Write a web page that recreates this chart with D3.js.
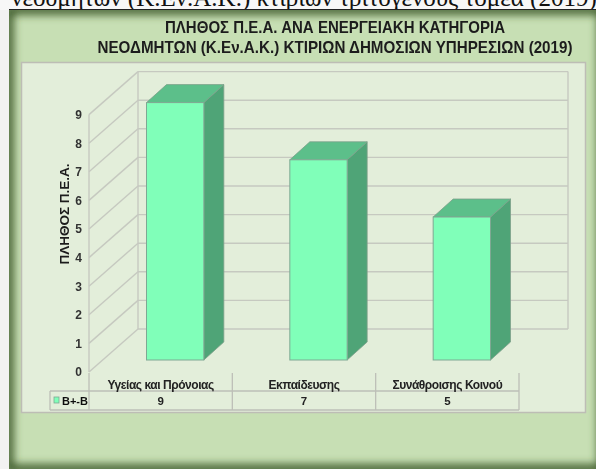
<!DOCTYPE html>
<html>
<head>
<meta charset="utf-8">
<script src="https://cdn.jsdelivr.net/npm/d3@7"></script>
<style>
  html, body { margin: 0; padding: 0; background: #f2f2f2; overflow: hidden; }
  svg { display: block; font-family: "Liberation Sans", Arial, sans-serif; }
</style>
</head>
<body>
<svg width="596" height="469"></svg>
<script>
(function() {
    // chart values
    var categories = ["Υγείας και Πρόνοιας", "Εκπαίδευσης", "Συνάθροισης Κοινού"];
    var seriesName = "Β+-Β";
    var seriesValues = [9, 7, 5];
    var yTicks = [0, 1, 2, 3, 4, 5, 6, 7, 8, 9];
    var titleLines = [
      "ΠΛΗΘΟΣ Π.Ε.Α. ΑΝΑ ΕΝΕΡΓΕΙΑΚΗ ΚΑΤΗΓΟΡΙΑ",
      "ΝΕΟΔΜΗΤΩΝ (Κ.Εν.Α.Κ.) ΚΤΙΡΙΩΝ ΔΗΜΟΣΙΩΝ ΥΠΗΡΕΣΙΩΝ (2019)"
    ];
    var yTitle = "ΠΛΗΘΟΣ Π.Ε.Α.";
    var caption = "νεοδμητων (Κ.Εν.Α.Κ.) κτιρίων τριτογενούς τομέα (2019)";

    var svg = d3.select("svg");
    var defs = svg.append("defs");

    var soft = defs.append("filter").attr("id", "soft");
    soft.append("feGaussianBlur").attr("stdDeviation", 0.55);

    // dark edges of the picture frame
    var edgeBlur = defs.append("filter").attr("id", "edge")
      .attr("x", "-5%").attr("y", "-5%").attr("width", "110%").attr("height", "110%");
    edgeBlur.append("feGaussianBlur").attr("stdDeviation", 4);

    var clip = defs.append("clipPath").attr("id", "frame");
    clip.append("rect").attr("x", 9).attr("y", 10).attr("width", 587).attr("height", 459);

    // caption cut off by the frame
    svg.append("rect").attr("width", 596).attr("height", 10).attr("fill", "#f7f7f7");
    svg.append("text")
      .attr("x", 304).attr("y", 6)
      .attr("text-anchor", "middle")
      .style("font-family", "'Liberation Serif', 'DejaVu Serif', serif")
      .style("font-size", "25px")
      .attr("fill", "#111")
      .text(caption);

    var frame = svg.append("g").attr("clip-path", "url(#frame)");
    frame.append("rect").attr("x", 9).attr("y", 10).attr("width", 587).attr("height", 459).attr("fill", "#c7dfb4");
    frame.append("rect")
      .attr("x", 9).attr("y", 10).attr("width", 593).attr("height", 459)
      .attr("fill", "none").attr("stroke", "#3c5a2c").attr("stroke-width", 9)
      .attr("filter", "url(#edge)");
    svg.append("line").attr("x1", 9).attr("x2", 596).attr("y1", 9.5).attr("y2", 9.5).attr("stroke", "#222");

    var g = svg.append("g").attr("filter", "url(#soft)");

    // plot panel
    g.append("rect")
      .attr("x", 21.5).attr("y", 62.5).attr("width", 564).attr("height", 350)
      .attr("fill", "#e3eeda").attr("stroke", "#bdbdb5").attr("stroke-width", 1.5);

    // title is narrower than the font, squeeze it to its width
    g.selectAll(".title").data(titleLines).enter().append("text")
      .attr("x", 335)
      .attr("y", function(d, i) { return i ? 52.5 : 32.5; })
      .attr("text-anchor", "middle")
      .attr("textLength", function(d, i) { return i ? 475 : 340; })
      .attr("lengthAdjust", "spacingAndGlyphs")
      .style("font-size", "16.5px").style("font-weight", "bold")
      .attr("fill", "#1c1c1c")
      .text(function(d) { return d; });

    // 3d offsets
    var wallDx = 49, wallDy = -43;
    var barDx = 20, barDy = -18;

    var y = d3.scaleLinear().domain([0, 9]).range([372, 114.6]);
    var x = d3.scaleBand().domain(categories).range([89, 519]).paddingInner(0.6).paddingOuter(0.3);
    var xCell = d3.scaleBand().domain(categories).range([89, 519]);

    var gridColor = "#c6c9c0";

    // back wall lines
    var wall = g.append("g").attr("fill", "none").attr("stroke", gridColor).attr("stroke-width", 1.4);
    wall.selectAll(".back").data(yTicks).enter().append("line")
      .attr("x1", 89 + wallDx).attr("x2", 519 + wallDx)
      .attr("y1", function(d) { return y(d) + wallDy; })
      .attr("y2", function(d) { return y(d) + wallDy; });
    wall.selectAll(".side").data(yTicks).enter().append("line")
      .attr("x1", 89).attr("x2", 89 + wallDx)
      .attr("y1", function(d) { return y(d); })
      .attr("y2", function(d) { return y(d) + wallDy; });
    wall.append("line").attr("x1", 89).attr("x2", 89).attr("y1", y(0)).attr("y2", y(9));
    wall.append("line").attr("x1", 89 + wallDx).attr("x2", 89 + wallDx).attr("y1", y(0) + wallDy).attr("y2", y(9) + wallDy);
    wall.append("line").attr("x1", 519 + wallDx).attr("x2", 519 + wallDx).attr("y1", y(0) + wallDy).attr("y2", y(9) + wallDy);

    // y axis labels
    var yAxis = d3.axisLeft(y).tickValues(yTicks).tickSize(0).tickPadding(0);
    var yG = g.append("g").attr("transform", "translate(82,0)").call(yAxis);
    yG.select(".domain").remove();
    yG.selectAll("text")
      .style("font-family", "'Liberation Sans', Arial, sans-serif")
      .style("font-size", "12px").style("font-weight", "bold").attr("fill", "#333");

    g.append("text")
      .attr("transform", "translate(69,214) rotate(-90)")
      .attr("text-anchor", "middle")
      .style("font-size", "13.5px").style("font-weight", "bold")
      .attr("fill", "#1c1c1c")
      .text(yTitle);

    // bars, drawn as front + top + side; front face sits inside the wall depth
    var bars = g.selectAll(".bar").data(seriesValues).enter().append("g");
    var baseX = 14.5, baseY = -12;
    function px(i) { return x(categories[i]) + baseX; }

    bars.append("path")
      .attr("fill", "#4fa477").attr("stroke", "#7d9f8a").attr("stroke-width", 0.8)
      .attr("d", function(d, i) {
        var x1 = px(i) + x.bandwidth();
        var t = y(d) + baseY, b = y(0) + baseY;
        return d3.line()([[x1, t], [x1 + barDx, t + barDy], [x1 + barDx, b + barDy], [x1, b]]) + "Z";
      });
    bars.append("path")
      .attr("fill", "#5bbf8a").attr("stroke", "#7d9f8a").attr("stroke-width", 0.8)
      .attr("d", function(d, i) {
        var x0 = px(i), x1 = x0 + x.bandwidth();
        var t = y(d) + baseY;
        return d3.line()([[x0, t], [x0 + barDx, t + barDy], [x1 + barDx, t + barDy], [x1, t]]) + "Z";
      });
    bars.append("rect")
      .attr("x", function(d, i) { return px(i); })
      .attr("y", function(d) { return y(d) + baseY; })
      .attr("width", x.bandwidth())
      .attr("height", function(d) { return y(0) - y(d); })
      .attr("fill", "#80ffb9").attr("stroke", "#7fa893").attr("stroke-width", 1);

    // data table under the chart
    var rowTop = 391, rowBottom = 410, headTop = 373, legendLeft = 50;
    var table = g.append("g").attr("stroke", "#bdbfb7").attr("stroke-width", 1.3);
    table.append("line").attr("x1", legendLeft).attr("x2", 519).attr("y1", rowTop).attr("y2", rowTop);
    table.append("line").attr("x1", legendLeft).attr("x2", 519).attr("y1", rowBottom).attr("y2", rowBottom);
    table.append("line").attr("x1", legendLeft).attr("x2", legendLeft).attr("y1", rowTop).attr("y2", rowBottom);
    table.selectAll(".cell").data([89].concat(categories.map(function(c) { return xCell(c) + xCell.bandwidth(); })))
      .enter().append("line")
      .attr("x1", function(d) { return d; }).attr("x2", function(d) { return d; })
      .attr("y1", headTop).attr("y2", rowBottom);

    g.selectAll(".cat").data(categories).enter().append("text")
      .attr("x", function(d) { return xCell(d) + xCell.bandwidth() / 2; })
      .attr("y", 389)
      .attr("text-anchor", "middle")
      .style("font-size", "12px").style("font-weight", "bold").style("letter-spacing", "-0.45px")
      .attr("fill", "#222")
      .text(function(d) { return d; });
    g.selectAll(".val").data(seriesValues).enter().append("text")
      .attr("x", function(d, i) { return xCell(categories[i]) + xCell.bandwidth() / 2; })
      .attr("y", 405)
      .attr("text-anchor", "middle")
      .style("font-size", "11.5px").style("font-weight", "bold")
      .attr("fill", "#222")
      .text(function(d) { return d; });

    g.append("rect").attr("x", 54).attr("y", 397).attr("width", 5).attr("height", 6)
      .attr("fill", "#80ffb9").attr("stroke", "#7fa893").attr("stroke-width", 0.8);
    g.append("text").attr("x", 62).attr("y", 405)
      .style("font-size", "11px").style("font-weight", "bold").attr("fill", "#111")
      .text(seriesName);
})();
</script>
</body>
</html>
